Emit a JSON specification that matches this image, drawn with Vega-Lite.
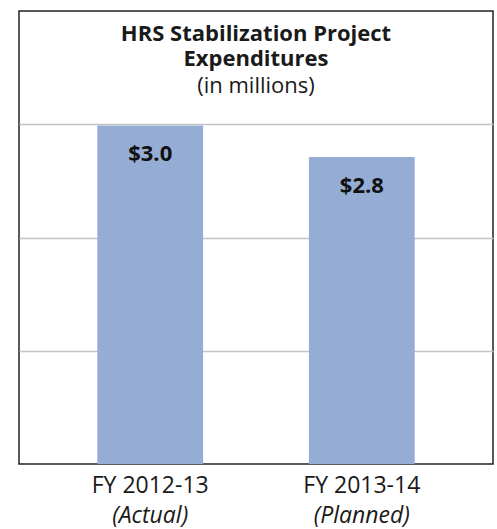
{
  "$schema": "https://vega.github.io/schema/vega-lite/v6.json",
  "width": 474,
  "height": 453,
  "autosize": "none",
  "padding": {"left": 19, "top": 11, "right": 4, "bottom": 65},
  "background": "white",
  "config": {
    "font": "Open Sans",
    "view": {"stroke": "#222222", "strokeWidth": 1.5}
  },
  "title": {
    "text": ["HRS Stabilization Project", "Expenditures"],
    "subtitle": "(in millions)",
    "font": "Open Sans",
    "fontSize": 22,
    "fontWeight": "bold",
    "color": "#1a1a1a",
    "lineHeight": 25,
    "subtitleFont": "Open Sans",
    "subtitleFontSize": 22,
    "subtitleColor": "#1a1a1a",
    "subtitlePadding": 5,
    "anchor": "middle",
    "offset": -87
  },
  "data": {
    "values": [
      {"fy": "FY 2012-13", "status": "(Actual)", "value": 2.99, "label": "$3.0"},
      {"fy": "FY 2013-14", "status": "(Planned)", "value": 2.71, "label": "$2.8"}
    ]
  },
  "layer": [
    {
      "mark": {"type": "bar", "color": "#95ADD4"},
      "encoding": {
        "x": {
          "field": "fy", "type": "nominal", "sort": null,
          "scale": {"type": "band", "paddingInner": 0.5, "paddingOuter": 0.37},
          "axis": {"orient": "bottom", "title": null, "labelAngle": 0, "domain": false, "ticks": false,
                   "labelFontSize": 23, "labelColor": "#1a1a1a", "labelPadding": 10, "labelFont": "Open Sans"}
        },
        "y": {
          "field": "value", "type": "quantitative",
          "scale": {"domain": [0, 4], "nice": false},
          "axis": {"title": null, "labels": false, "ticks": false, "domain": false, "grid": true,
                   "values": [1, 2, 3], "gridColor": "#C4C4C4", "gridWidth": 1.5}
        }
      }
    },
    {
      "mark": {"type": "text", "baseline": "middle", "align": "center", "dy": 29, "fontSize": 22, "fontWeight": "bold", "color": "#111111", "font": "Open Sans"},
      "encoding": {
        "x": {
          "field": "status", "type": "nominal", "sort": null,
          "scale": {"type": "band", "paddingInner": 0.5, "paddingOuter": 0.37},
          "axis": {"orient": "bottom", "title": null, "labelAngle": 0, "domain": false, "ticks": false, "grid": false,
                   "labelFontSize": 23, "labelFontStyle": "italic", "labelColor": "#1a1a1a", "labelPadding": 40, "labelFont": "Open Sans"}
        },
        "y": {"field": "value", "type": "quantitative", "scale": {"domain": [0, 4], "nice": false}},
        "text": {"field": "label"}
      }
    }
  ],
  "resolve": {"scale": {"x": "independent"}, "axis": {"x": "independent"}}
}
